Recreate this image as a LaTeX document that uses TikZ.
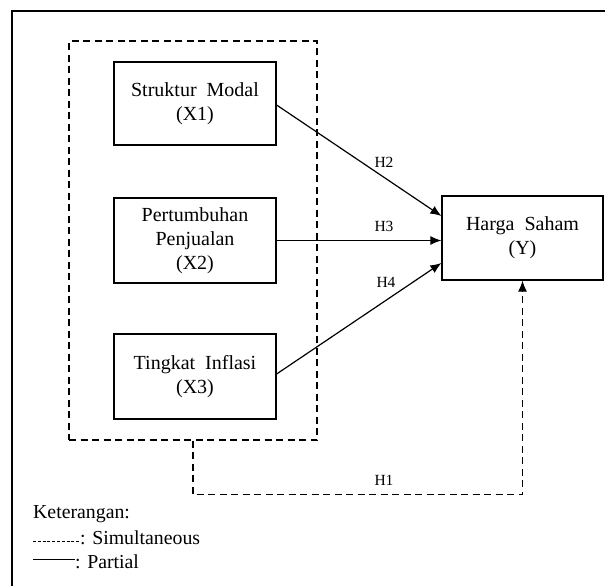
\documentclass[tikz,border=0pt]{standalone}
\usepackage{fontspec}
\setmainfont{Liberation Serif}
\usetikzlibrary{arrows.meta}
\begin{document}
\begin{tikzpicture}[x=1pt,y=-1pt,
  box/.style={draw,line width=1.2pt,minimum width=162pt,align=center,
    font=\fontsize{20}{24}\selectfont,inner sep=0pt},
  link/.style={line width=1.2pt,-{Latex[length=11pt,width=9pt]}},
  dashline/.style={line width=1.2pt,dash pattern=on 7pt off 4.5pt},
  hlabel/.style={font=\fontsize{15.5}{18}\selectfont,inner sep=0pt},
  legend/.style={font=\fontsize{19.8}{23}\selectfont,inner sep=0pt,anchor=base west}]
\useasboundingbox (0,0) rectangle (605,586);
% outer frame (top and left)
\draw[line width=2.5pt] (605,11) -- (12,11) -- (12,586);
% simultaneous group
\node[draw,dashline,minimum width=248pt,minimum height=399pt,inner sep=0pt] (S) at (193,240.5) {};
% boxes
\node[box,minimum height=83pt] (X1) at (195,103.5) {Struktur\ \ Modal\\(X1)};
\node[box,minimum height=85pt] (X2) at (195,240.5) {Pertumbuhan\\Penjualan\\(X2)};
\node[box,minimum height=85pt] (X3) at (195,376.5) {Tingkat\ \ Inflasi\\(X3)};
\node[box,minimum width=161pt,minimum height=84pt] (Y) at (522.5,238) {Harga\ \ Saham\\(Y)};
% partial paths
\draw[link] ([yshift=-1.5pt]X1.east) -- ([yshift=22pt]Y.west);
\draw[link] (X2.east) -- (X2.east -| Y.west);
\draw[link] ([yshift=2.5pt]X3.east) -- ([yshift=-25pt]Y.west);
% simultaneous path
\draw[dashline,-{Latex[length=11pt,width=9pt]}] (S.south) -- ++(0,54) -| (Y.south);
% labels
\node[hlabel] (h2) at (384,162) {H2};
\node[hlabel] (h3) at (384,226) {H3};
\node[hlabel] (h4) at (386,282) {H4};
\node[hlabel] (h1) at (384,480) {H1};
% legend
\node[legend] (k) at (33,518) {Keterangan:};
\coordinate (ds) at (33,541);
\coordinate (de) at (80,541);
\draw[line width=0.8pt,dash pattern=on 3pt off 1.8pt] (ds) -- (de);
\node[legend] (sim) at (80,544) {: Simultaneous};
\coordinate (ps) at (33,559);
\coordinate (pe) at (75,559);
\draw[line width=1pt] (ps) -- (pe);
\node[legend] (par) at (75,568) {: Partial};
\end{tikzpicture}
\end{document}
